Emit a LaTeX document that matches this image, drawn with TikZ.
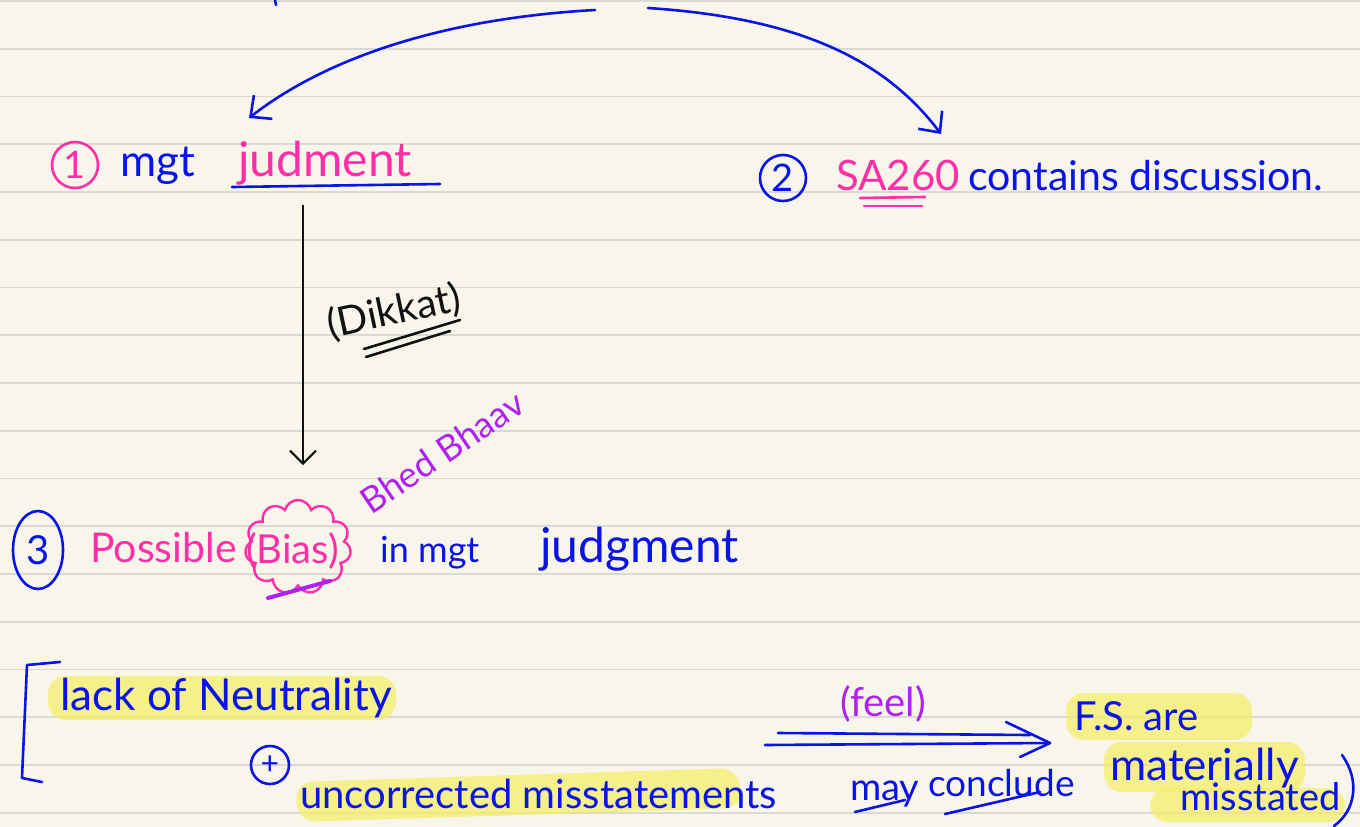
\documentclass[tikz,border=0pt]{standalone}
\usepackage{fontspec}
\setmainfont{Lato}
\usetikzlibrary{arrows.meta,shapes.symbols,shapes.geometric,calc}
\definecolor{paper}{HTML}{F8F6EA}
\definecolor{rulegray}{HTML}{D9D9D6}
\definecolor{inkblue}{HTML}{0A14E6}
\definecolor{inkpink}{HTML}{FF2FA8}
\definecolor{inkpurple}{HTML}{B022F0}
\definecolor{inkblack}{HTML}{111111}
\definecolor{hl}{HTML}{F5EE6A}
\newcommand{\fsz}[1]{\fontsize{#1}{#1}\selectfont}
\tikzset{
  ink/.style={line width=2.6pt, line cap=round, line join=round},
  txt/.style={inner sep=0pt, anchor=base west, font=\fsz{40}},
  bluetxt/.style={txt, text=inkblue},
  pinktxt/.style={txt, text=inkpink},
  purpletxt/.style={txt, text=inkpurple},
  numring/.style={circle, draw, ink, inner sep=0pt, minimum size=46pt, font=\fsz{38}},
  barb/.style={-{Straight Barb[length=16pt,width=30pt,line width=2.6pt]}},
  marker/.style={fill=hl, opacity=0.75, rounded corners=18pt},
}
\begin{document}
\begin{tikzpicture}[x=1pt,y=-1pt]
\useasboundingbox (0,0) rectangle (1360,827);
% ruled paper
\fill[paper] (0,0) rectangle (1360,827);
\foreach \k in {0,...,17}
  \draw[rulegray, line width=1.6pt] (0,{1+47.75*\k}) -- (1360,{1+47.75*\k});

% highlighter strokes
\fill[marker] (48,676) rectangle (396,720);
\fill[marker] (295,782) -- (738,768) -- (742,808) -- (298,822) -- cycle;
\fill[marker] (1066,693) rectangle (1252,740);
\fill[marker] (1104,742) rectangle (1305,792);
\fill[marker] (1150,788) rectangle (1345,822);

% free ends of the two curved arrows, above the page
\coordinate (srcL) at (595,10);
\coordinate (srcR) at (648,8);
\coordinate (tipL) at (249,118);
\coordinate (tipR) at (941,134);
\draw[inkblue, ink] (275,0) -- (276,5);

% row 1
\node[numring, draw=inkpink, text=inkpink] (c1) at (75,165) {1};
\node[bluetxt, font=\fsz{44}] (mgt1) at (120,176) {mgt};
\node[pinktxt, font=\fsz{48}] (jud1) at (238,176) {judment};
\draw[inkblue, ink] (232,187) -- (440,184);

% row 1, right
\node[numring, draw=inkblue, text=inkblue] (c2) at (783,178) {2};
\node[pinktxt, font=\fsz{42}] (sa) at (836,190) {SA260};
\draw[inkpink, ink] (860,198) -- (925,197);
\draw[inkpink, ink] (864,206) -- (922,206);
\node[bluetxt, font=\fsz{41}] (disc) at (968,190) {contains discussion.};

% curved arrows
\draw[inkblue, ink, barb] (srcL) .. controls (450,18) and (330,55) .. (tipL);
\draw[inkblue, ink, barb] (srcR) .. controls (800,18) and (885,60) .. (tipR);

% vertical arrow
\coordinate (vtop) at (303,205);
\coordinate (vbot) at (303,465);
\draw[inkblack, line width=2pt, -{Straight Barb[length=13pt,width=26pt,line width=2pt]}] (vtop) -- (vbot);
\node[text=inkblack, font=\fsz{40}, rotate=12, inner sep=0pt] (dk) at (394,312) {(Dikkat)};
\draw[inkblack, ink] (364,349) -- (460,320);
\draw[inkblack, ink] (366,357) -- (450,331);

% row 3
\node[ellipse, draw=inkblue, ink, text=inkblue, minimum width=50pt, minimum height=78pt, inner sep=0pt,
      font=\fsz{40}] (c3) at (38,550) {3};
\node[pinktxt, font=\fsz{41}] (poss) at (90,562) {Possible};
\node[cloud, cloud puffs=11, aspect=1.1, draw=inkpink, line width=2.4pt, minimum width=106pt, minimum height=94pt] (cl) at (298,547) {};
\node[pinktxt, font=\fsz{40}] (bias) at (246,563) {(Bias)};
\draw[inkpurple, line width=4pt, line cap=round] (268,598) -- (330,581);
\node[text=inkpurple, font=\fsz{36}, rotate=34, inner sep=0pt] (bb) at (442,452) {Bhed Bhaav};
\node[bluetxt, font=\fsz{36}] (inm) at (380,562) {in mgt};
\node[bluetxt, font=\fsz{48}] (jud3) at (540,562) {judgment};

% row 4
\draw[inkblue, ink] (60,662) -- (27,665) -- (22,778) -- (42,782);
\node[bluetxt, font=\fsz{44}] (lack) at (60,710) {lack of Neutrality};
\node[numring, draw=inkblue, text=inkblue, minimum size=38pt, font=\fsz{32}] (plus) at (270,765) {+};
\node[bluetxt, font=\fsz{40}] (unc) at (300,808) {uncorrected misstatements};

% double arrow
\coordinate (dA) at (778,733);
\coordinate (dB) at (1030,735);
\coordinate (dC) at (765,745);
\coordinate (dD) at (1050,743);
\draw[inkblue, ink] (dA) -- (dB);
\draw[inkblue, ink] (dC) -- (dD);
\draw[inkblue, ink] (1006,722) -- (dD) -- (1020,757);
\node[purpletxt, font=\fsz{40}] (feel) at (840,716) {(feel)};
\node[bluetxt, font=\fsz{38}] (may) at (850,800) {may};
\draw[inkblue, ink] (855,812) -- (905,800);
\node[bluetxt, font=\fsz{37}] (concl) at (928,796) {conclude};
\draw[inkblue, ink] (945,814) -- (1040,792);

\node[bluetxt, font=\fsz{40}] (fs1) at (1074,730) {F.S. are};
\node[bluetxt, font=\fsz{44}] (fs2) at (1110,780) {materially};
\node[bluetxt, font=\fsz{38}] (fs3) at (1180,810) {misstated};
\draw[inkblue, ink] (1342,755) .. controls (1360,780) and (1356,810) .. (1334,826);
\end{tikzpicture}
\end{document}
